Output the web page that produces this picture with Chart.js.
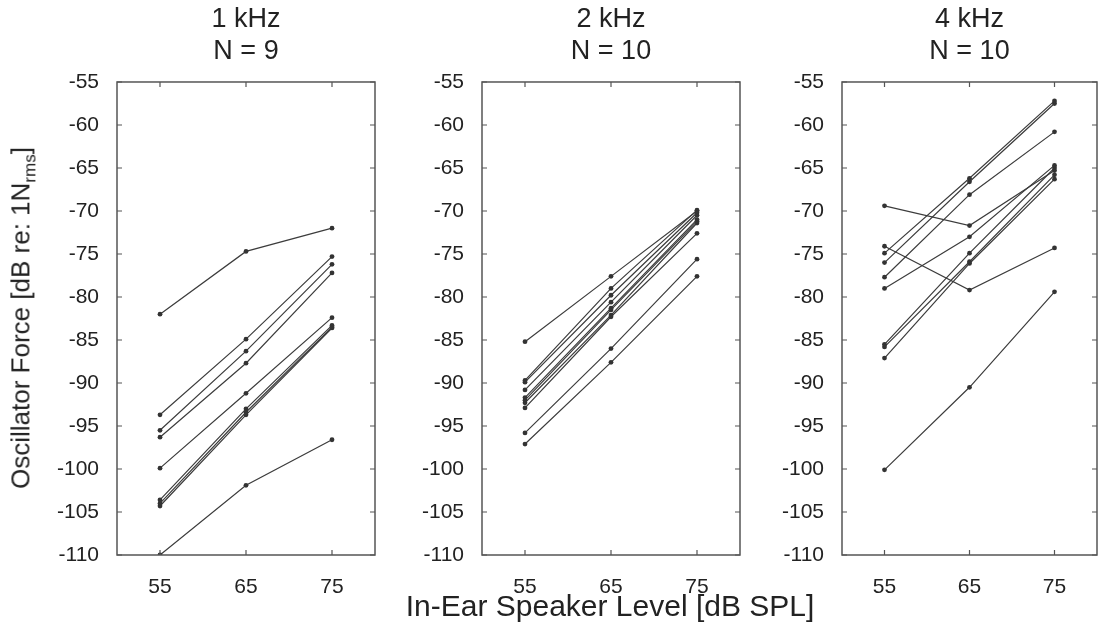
<!DOCTYPE html>
<html>
<head>
<meta charset="utf-8">
<script src="https://cdn.jsdelivr.net/npm/chart.js@4"></script>
<style>
    body { margin: 0; background: #fff; }
    #wrap { position: relative; width: 1101px; height: 630px; background: #fff; font-family: "Liberation Sans", Arial, sans-serif; color: #222; }
    canvas { position: absolute; top: 0; }
    #ylabel { position: absolute; left: 23px; top: 318px; transform: translate(-50%, -50%) rotate(-90deg); white-space: nowrap; font-size: 26px; }
    #ylabel sub { font-size: 17px; }
    #xlabel { position: absolute; left: 610px; top: 606px; transform: translate(-50%, -50%); white-space: nowrap; font-size: 30px; }
</style>
</head>
<body>
<div id="wrap">
    <canvas id="p1" width="380" height="600" style="left:0px"></canvas>
    <canvas id="p2" width="365" height="600" style="left:380px"></canvas>
    <canvas id="p3" width="356" height="600" style="left:745px"></canvas>
    <div id="ylabel">Oscillator Force [dB re: 1N<sub>rms</sub>]</div>
    <div id="xlabel">In-Ear Speaker Level [dB SPL]</div>
</div>
<script>
// speaker levels (x) and y ticks
const levels = [55, 65, 75];
const yTicks = [-110, -105, -100, -95, -90, -85, -80, -75, -70, -65, -60, -55];

// one row per subject: force at 55, 65, 75 dB SPL
const khz1 = [
    [-82.0, -74.7, -72.0],
    [-93.7, -84.9, -75.3],
    [-95.5, -86.3, -76.2],
    [-96.3, -87.7, -77.2],
    [-99.9, -91.2, -82.4],
    [-103.6, -93.0, -83.3],
    [-104.0, -93.4, -83.5],
    [-104.3, -93.7, -83.6],
    [-110.0, -101.9, -96.6]
];
const khz2 = [
    [-85.2, -77.6, -70.0],
    [-89.7, -79.0, -69.9],
    [-89.9, -79.8, -70.2],
    [-90.8, -80.6, -70.5],
    [-91.7, -81.3, -71.0],
    [-92.0, -81.5, -71.2],
    [-92.3, -82.1, -71.4],
    [-92.9, -82.3, -72.6],
    [-95.8, -86.0, -75.6],
    [-97.1, -87.6, -77.6]
];
const khz4 = [
    [-69.4, -71.7, -65.3],
    [-74.1, -79.2, -74.3],
    [-74.9, -66.2, -57.2],
    [-76.0, -66.6, -57.5],
    [-77.7, -68.1, -60.8],
    [-79.0, -73.0, -64.7],
    [-85.5, -74.9, -65.0],
    [-85.8, -75.9, -65.8],
    [-87.1, -76.1, -66.3],
    [-100.1, -90.5, -79.4]
];

const titles = [['1 kHz', 'N = 9'], ['2 kHz', 'N = 10'], ['4 kHz', 'N = 10']];

const FONT = '"Liberation Sans", Arial, sans-serif';
const INK = '#3c3c3c';

// matlab style box with inward ticks
const boxPlugin = {
    id: 'box',
    afterDraw(chart) {
        const { ctx, chartArea } = chart;
        const { left, right, top, bottom } = chartArea;
        const xs = chart.scales.x, ys = chart.scales.y;
        ctx.save();
        ctx.strokeStyle = '#555';
        ctx.lineWidth = 1.5;
        ctx.strokeRect(left, top, right - left, bottom - top);
        ctx.lineWidth = 1.2;
        ctx.beginPath();
        ys.ticks.forEach(t => {
            const py = ys.getPixelForValue(t.value);
            ctx.moveTo(left, py); ctx.lineTo(left + 5, py);
            ctx.moveTo(right, py); ctx.lineTo(right - 5, py);
        });
        xs.ticks.forEach(t => {
            const px = xs.getPixelForValue(t.value);
            ctx.moveTo(px, bottom); ctx.lineTo(px, bottom - 5);
            ctx.moveTo(px, top); ctx.lineTo(px, top + 5);
        });
        ctx.stroke();
        ctx.restore();
    }
};

function makePanel(id, rows, title, yWidth, rightPad) {
    const datasets = rows.map(r => ({
        data: r.map((v, i) => ({ x: levels[i], y: v })),
        borderColor: INK,
        borderWidth: 1.2,
        pointRadius: 2.4,
        pointBackgroundColor: '#333',
        pointBorderWidth: 0,
        tension: 0
    }));

    new Chart(document.getElementById(id), {
        type: 'line',
        data: { datasets },
        options: {
            responsive: false,
            animation: false,
            layout: { padding: { top: 0, right: rightPad, bottom: 0, left: 0 } },
            plugins: {
                legend: { display: false },
                tooltip: { enabled: false },
                title: {
                    display: true,
                    text: title,
                    fullSize: false,
                    color: '#222',
                    font: { family: FONT, size: 27, weight: 'normal', lineHeight: 1.185 },
                    padding: { top: 4, bottom: 14 }
                }
            },
            scales: {
                x: {
                    type: 'linear',
                    min: 50,
                    max: 80,
                    afterBuildTicks: s => { s.ticks = levels.map(v => ({ value: v })); },
                    afterFit: s => { s.height = 45; },
                    grid: { display: false },
                    border: { display: false },
                    ticks: { color: '#222', padding: 12, font: { family: FONT, size: 21 } }
                },
                y: {
                    min: -110,
                    max: -55,
                    afterBuildTicks: s => { s.ticks = yTicks.map(v => ({ value: v })); },
                    afterFit: s => { s.width = yWidth; },
                    grid: { display: false },
                    border: { display: false },
                    ticks: { color: '#222', padding: 10, font: { family: FONT, size: 21 } }
                }
            }
        },
        plugins: [boxPlugin]
    });
}

makePanel('p1', khz1, titles[0], 117, 5);
makePanel('p2', khz2, titles[1], 102, 5);
makePanel('p3', khz4, titles[2], 97, 3);
</script>
</body>
</html>
